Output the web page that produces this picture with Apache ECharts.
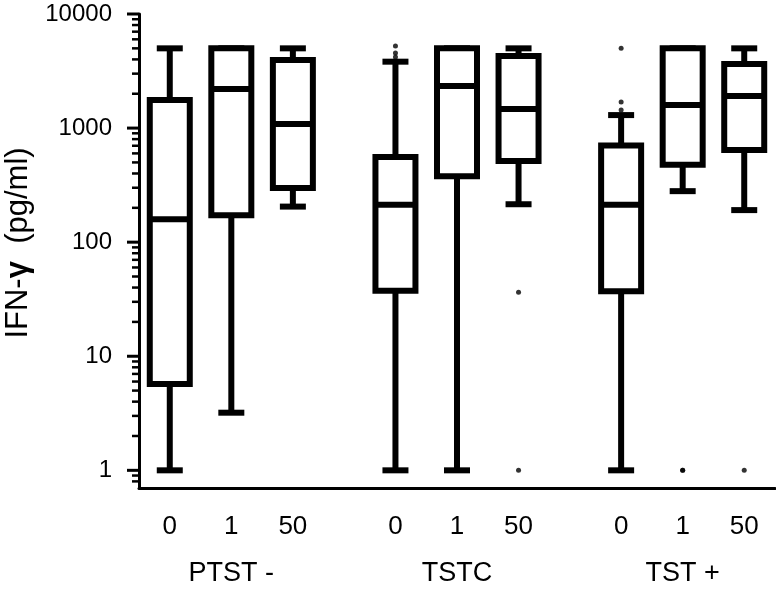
<!DOCTYPE html>
<html>
<head>
<meta charset="utf-8">
<title>IFN-γ</title>
<script src="https://cdn.jsdelivr.net/npm/echarts@6/dist/echarts.min.js"></script>
<style>
  html, body { margin: 0; padding: 0; background: #fff; }
  #chart { width: 776px; height: 590px; }
</style>
</head>
<body>
<div id="chart"></div>
<script>
  // groups on the x axis, three doses in each
  var groups = ['PTST -', 'TSTC', 'TST +'];
  var doses = ['0', '1', '50'];

  // one entry per box: PTST - (0,1,50), TSTC (0,1,50), TST + (0,1,50)
  var boxMin    = [1,    3.2,  205,  1,    1,    215,  1,    280,  191];
  var boxQ1     = [5.7,  172,  298,  37.5, 379,  514,  37.2, 478,  641];
  var boxMedian = [159,  2200, 1084, 213,  2335, 1468, 213,  1592, 1909];
  var boxQ3     = [1760, 5000, 3950, 557,  5000, 4280, 702,  5000, 3640];
  var boxMax    = [5000, 5000, 5000, 3820, 5000, 5000, 1300, 5000, 5000];

  // outliers: index of the box, value
  var outlierBox   = [3,    3,    3,    5,    5, 6,    6,    6,    7, 7, 8];
  var outlierValue = [5240, 4550, 4200, 36.4, 1, 5000, 1690, 1440, 1, 1, 1];

  // y axis ticks (log)
  var yMajorTicks = [1, 10, 100, 1000, 10000];
  var yMinorTicks = [0.8, 0.9,
    2, 3, 4, 5, 6, 7, 8, 9,
    20, 30, 40, 50, 60, 70, 80, 90,
    200, 300, 400, 500, 600, 700, 800, 900,
    2000, 3000, 4000, 5000, 6000, 7000, 8000, 9000];

  var FONT = '"Liberation Sans", Arial, sans-serif';

  // x axis is a row of narrow slots, boxes sit on some of them
  var slotCount = 31;
  function slotOf(i) {
    return 1 + Math.floor(i / 3) * 11 + (i % 3) * 3;
  }
  var slots = [], doseLabels = [], groupLabels = [];
  for (var s = 0; s < slotCount; s++) {
    slots.push('s' + s);
    doseLabels.push('');
    groupLabels.push('');
  }
  for (var i = 0; i < boxMin.length; i++) {
    doseLabels[slotOf(i)] = doses[i % 3];
  }
  for (var g = 0; g < groups.length; g++) {
    groupLabels[slotOf(g * 3 + 1)] = groups[g];
  }

  var boxData = boxMin.map(function (v, i) {
    return [slotOf(i), boxMin[i], boxQ1[i], boxMedian[i], boxQ3[i], boxMax[i]];
  });
  var outlierData = outlierBox.map(function (b, i) {
    return [slotOf(b), outlierValue[i]];
  });

  function renderBox(params, api) {
    var slot = api.value(0);
    var x = api.coord([slot, 1])[0];
    var yMin = api.coord([slot, api.value(1)])[1];
    var yQ1 = api.coord([slot, api.value(2)])[1];
    var yMed = api.coord([slot, api.value(3)])[1];
    var yQ3 = api.coord([slot, api.value(4)])[1];
    var yMax = api.coord([slot, api.value(5)])[1];
    var half = 20, cap = 13;
    var line = function (x1, y1, x2, y2) {
      return {
        type: 'line',
        shape: { x1: x1, y1: y1, x2: x2, y2: y2 },
        style: { stroke: '#000', lineWidth: 6 }
      };
    };
    return {
      type: 'group',
      children: [
        line(x, yQ3, x, yMax),
        line(x - cap, yMax, x + cap, yMax),
        line(x, yQ1, x, yMin),
        line(x - cap, yMin, x + cap, yMin),
        {
          type: 'rect',
          shape: { x: x - half, y: yQ3, width: half * 2, height: yQ1 - yQ3 },
          style: { fill: '#fff', stroke: '#000', lineWidth: 6 }
        },
        line(x - half, yMed, x + half, yMed)
      ]
    };
  }

  function tickRenderer(len, width) {
    return function (params, api) {
      var x0 = params.coordSys.x;
      var y = api.coord([0, api.value(1)])[1];
      return {
        type: 'line',
        shape: { x1: x0 - len, y1: y, x2: x0, y2: y },
        style: { stroke: '#000', lineWidth: width }
      };
    };
  }

  var chart = echarts.init(document.getElementById('chart'));
  chart.setOption({
    animation: false,
    backgroundColor: '#fff',
    grid: {
      left: 139, right: 1, top: 14, bottom: 102,
      containLabel: false,
      outerBoundsMode: 'none'
    },
    xAxis: [
      {
        type: 'category',
        data: slots,
        axisLine: { onZero: false, lineStyle: { color: '#000', width: 3 } },
        axisTick: {
          alignWithLabel: true,
          interval: function (idx) { return doseLabels[idx] !== ''; },
          length: 12,
          lineStyle: { color: '#000', width: 3 }
        },
        axisLabel: {
          interval: function (idx) { return doseLabels[idx] !== ''; },
          formatter: function (val, idx) { return doseLabels[idx]; },
          color: '#000',
          fontSize: 26,
          fontFamily: FONT,
          margin: 26
        },
        splitLine: { show: false }
      },
      {
        type: 'category',
        data: slots,
        position: 'bottom',
        axisLine: { show: false },
        axisTick: { show: false },
        axisLabel: {
          interval: function (idx) { return groupLabels[idx] !== ''; },
          formatter: function (val, idx) { return groupLabels[idx]; },
          color: '#000',
          fontSize: 27,
          fontFamily: FONT,
          margin: 72
        },
        splitLine: { show: false }
      }
    ],
    yAxis: {
      type: 'log',
      logBase: 10,
      min: 0.7,
      max: 10000,
      name: 'IFN-{g|γ}  (pg/ml)',
      nameLocation: 'middle',
      nameGap: 104,
      nameTextStyle: {
        color: '#000',
        fontSize: 31,
        fontFamily: FONT,
        padding: [0, 0, 0, 16],
        rich: { g: { color: '#000', fontSize: 31, fontFamily: FONT, fontWeight: 'bold' } }
      },
      axisLine: { show: true, lineStyle: { color: '#000', width: 3 } },
      axisTick: { show: false },
      splitLine: { show: false },
      axisLabel: {
        color: '#000',
        fontSize: 24,
        fontFamily: FONT,
        margin: 27,
        formatter: function (v) {
          var r = Math.round(v);
          return yMajorTicks.indexOf(r) >= 0 && Math.abs(v - r) < 1e-6 ? String(r) : '';
        }
      }
    },
    series: [
      {
        type: 'custom',
        name: 'major ticks',
        clip: false,
        silent: true,
        renderItem: tickRenderer(12, 3),
        data: yMajorTicks.map(function (v) { return [0, v]; })
      },
      {
        type: 'custom',
        name: 'minor ticks',
        clip: false,
        silent: true,
        renderItem: tickRenderer(7, 2.5),
        data: yMinorTicks.map(function (v) { return [0, v]; })
      },
      {
        type: 'scatter',
        name: 'outliers',
        symbolSize: 5,
        itemStyle: { color: '#000' },
        data: outlierData
      },
      {
        type: 'custom',
        name: 'boxes',
        clip: false,
        renderItem: renderBox,
        encode: { x: 0, y: [1, 2, 3, 4, 5] },
        data: boxData
      }
    ]
  });
</script>
</body>
</html>
